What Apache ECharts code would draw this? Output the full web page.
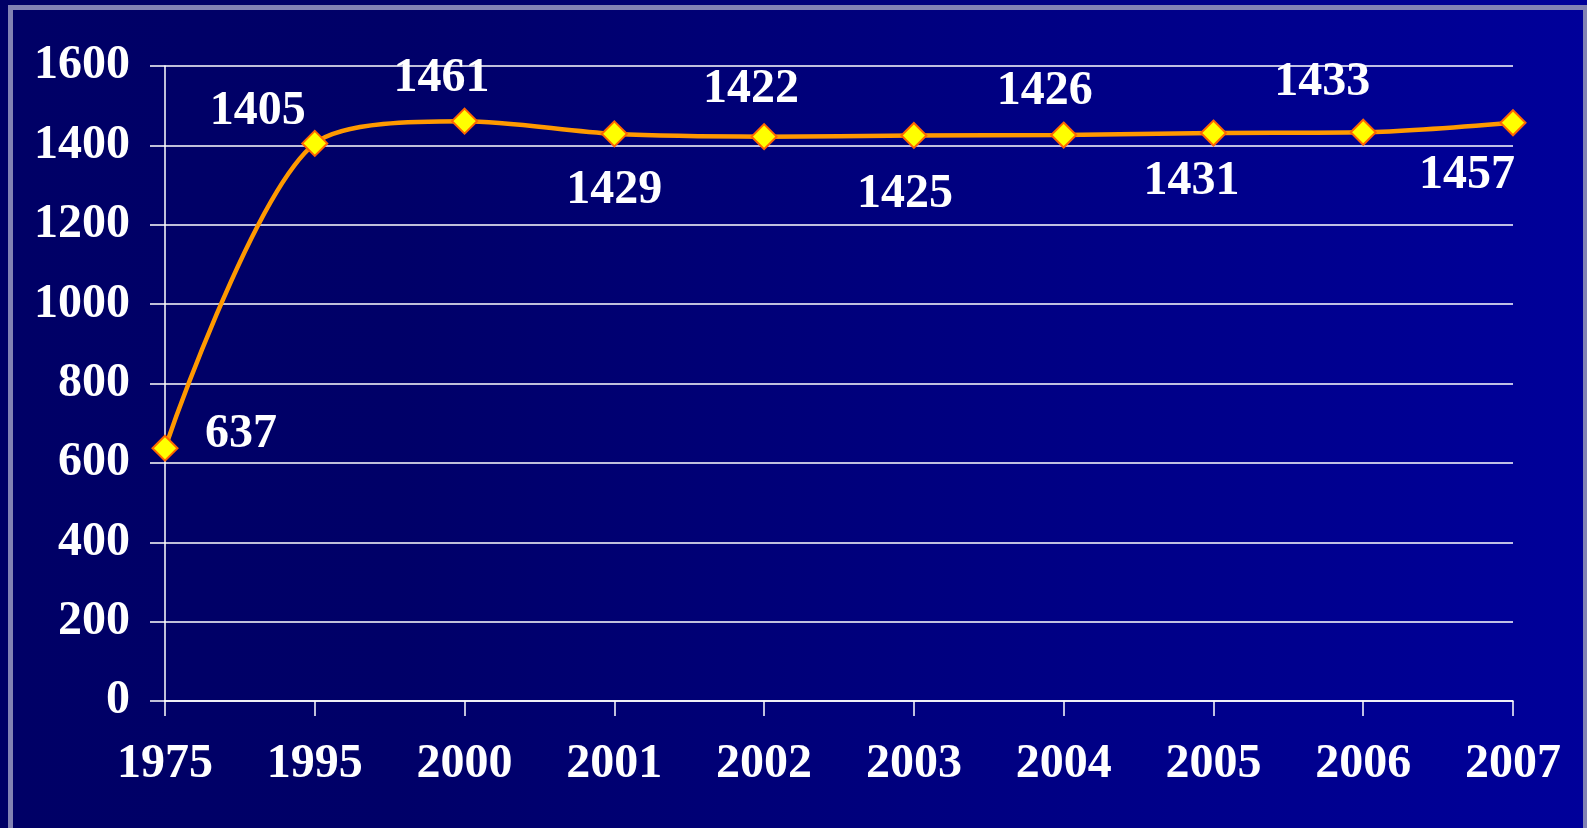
<!DOCTYPE html>
<html>
<head>
<meta charset="utf-8">
<script src="https://cdn.jsdelivr.net/npm/echarts@6/dist/echarts.min.js"></script>
<style>
  html, body { margin: 0; padding: 0; }
  body { background: linear-gradient(to right, #000066 0%, #000068 25%, #000080 60%, #00009a 100%); }
  #chart { width: 1587px; height: 828px; }
</style>
</head>
<body>
<div id="chart"></div>
<script>
// 年份与数值
const years = ['1975', '1995', '2000', '2001', '2002', '2003', '2004', '2005', '2006', '2007']
const values = [637, 1405, 1461, 1429, 1422, 1425, 1426, 1431, 1433, 1457]
// 数值标签相对数据点的偏移
const labelOffsets = [[76, -14], [-57, -32], [-23, -43], [0, 57], [-13, -47], [-9, 59], [-19, -43], [-22, 49], [-41, -50], [-46, 53]]

const font = 'Liberation Serif'
const chart = echarts.init(document.getElementById('chart'))

const option = {
  backgroundColor: 'transparent',
  animation: false,
  graphic: [
    {
      type: 'rect',
      shape: { x: 10.5, y: 7.5, width: 1575, height: 825 },
      style: { fill: 'none', stroke: '#8282b4', lineWidth: 5 }
    }
  ],
  grid: { left: 165, right: 74, top: 66, bottom: 127 },
  xAxis: {
    type: 'category',
    data: years,
    boundaryGap: false,
    axisLine: { lineStyle: { color: '#ffffff', width: 1.5 } },
    axisTick: { show: true, length: 15, lineStyle: { color: '#ffffff', width: 1.5 } },
    axisLabel: { color: '#ffffff', fontFamily: font, fontWeight: 'bold', fontSize: 48, margin: 40 },
    splitLine: { show: false }
  },
  yAxis: {
    type: 'value',
    min: 0,
    max: 1600,
    interval: 200,
    axisLine: { show: true, lineStyle: { color: '#ffffff', width: 1.5 } },
    axisTick: { show: true, length: 15, lineStyle: { color: '#ffffff', width: 1.5 } },
    axisLabel: {
      color: '#ffffff', fontFamily: font, fontWeight: 'bold', fontSize: 48, margin: 35,
      formatter: v => String(v)
    },
    splitLine: { show: true, lineStyle: { color: '#ffffff', width: 1.5 } }
  },
  series: [
    {
      type: 'line',
      data: values.map((v, i) => ({
        value: v,
        label: { offset: labelOffsets[i] }
      })),
      smooth: 0.3,
      symbol: 'diamond',
      symbolSize: 25,
      lineStyle: { color: '#ff9900', width: 4.5 },
      itemStyle: { color: '#ffff00', borderColor: '#ff6600', borderWidth: 2 },
      label: {
        show: true,
        position: 'inside',
        color: '#ffffff',
        fontFamily: font,
        fontWeight: 'bold',
        fontSize: 48
      },
      z: 3
    }
  ]
}
chart.setOption(option)
</script>
</body>
</html>
